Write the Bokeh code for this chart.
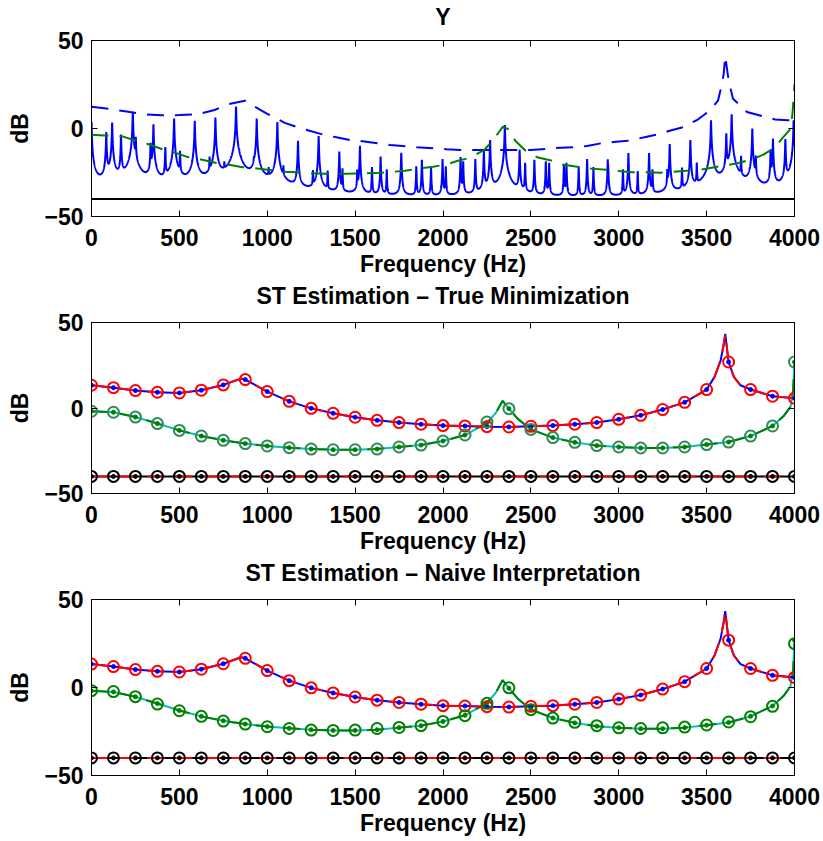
import numpy as np
from bokeh.plotting import figure
from bokeh.layouts import column
from bokeh.models import Range1d, LinearAxis, FixedTicker
from bokeh.embed import file_html
from bokeh.resources import INLINE

FONT = "Liberation Sans"
FONT_SIZE = "23px"
BLUE, RED, GREEN, CYAN, BLACK = "#0000ff", "#ff0000", "#008000", "#00bfbf", "#000000"
SEAGREEN = "#2e8b57"
DASH = "17 11"

X_TICKS = [0, 500, 1000, 1500, 2000, 2500, 3000, 3500, 4000]
Y_TICKS = [-50, 0, 50]

# analysis frequencies of the envelope estimates (Hz)
GRID_HZ = [0, 125, 250, 375, 500, 625, 750, 875, 1000, 1125, 1250, 1375, 1500,
           1625, 1750, 1875, 2000, 2125, 2250, 2375, 2500, 2625, 2750, 2875,
           3000, 3125, 3250, 3375, 3500, 3625, 3750, 3875, 4000]
NOISE_FLOOR_DB = -40.0

# --- mixture spectrum Y: two harmonic sources plus a flat noise floor -------
DC_DB = 3.7
PARTIALS_A_HZ = [117.5, 235, 352.5, 470, 587.5, 705, 822.5, 940, 1057.5, 1175,
                 1292.5, 1410, 1527.5, 1645, 1762.5, 1880, 1997.5, 2115, 2232.5,
                 2350, 2467.5, 2585, 2702.5, 2820, 2937.5, 3055, 3172.5, 3290,
                 3407.5, 3525, 3642.5, 3760, 3877.5, 3995]
PARTIALS_A_DB = [3.4, 9.5, 2.4, 5.6, 4.3, 6.2, 12.5, 5.6, 3.7, -7.0,
                 -4.3, -13.1, -9.9, -15.9, -14.0, -17.8, -17.4, -18.7, -12.2,
                 -14.0, -19.6, -18.7, -19.6, -17.4, -17.8, -14.0, -14.0, -8.8,
                 -6.6, 4.7, 8.0, 0.0, -5.7, 4.7]
PARTIALS_B_HZ = [84, 168, 252, 336, 420, 504, 588, 672, 756, 840,
                 924, 1008, 1092, 1176, 1260, 1344, 1428, 1512, 1596, 1680,
                 1764, 1848, 1932, 2016, 2100, 2184, 2268, 2352, 2436, 2520,
                 2604, 2688, 2772, 2856, 2940, 3024, 3108, 3192, 3276, 3360,
                 3444, 3528, 3612, 3696, 3780, 3864, 3948]
PARTIALS_B_DB = [-2.0, -3.5, -5.2, -8.4, -10.7, -13.1, -13.0, -16.9, -21.2, -20.0,
                 -19.7, -24.0, -22.5, -24.0, -24.4, -24.4, -23.0, -24.0, -22.0, -23.4,
                 -23.0, -21.6, -21.6, -21.6, -16.3, -17.4, -6.6, 1.9, -12.2, -17.8,
                 -19.6, -20.5, -21.6, -22.0, -22.0, -23.4, -24.4, -23.4, -24.0, -22.5,
                 -19.7, -20.0, -2.8, -15.9, -15.9, -12.0, -6.0]
PARTIAL_BW_HZ = 1.0

# spectral envelopes shown over Y
TOP_ENV_A_HZ = [0, 110, 200, 300, 400, 500, 600, 700, 780, 845, 875, 910, 1000, 1100,
                1200, 1330, 1400, 1470, 1530, 1630, 1700, 1770, 1850, 1950, 2020, 2100,
                2300, 2500, 2600, 2670, 2740, 2820, 2900, 2970, 3050, 3100, 3160, 3230,
                3300, 3360, 3450, 3520, 3565, 3585, 3597, 3606, 3620, 3630, 3650, 3730,
                3820, 3890, 3960, 4000]
TOP_ENV_A_DB = [12.3, 11.0, 9.6, 8.0, 7.5, 7.6, 8.0, 10.5, 13.8, 15.2, 15.8, 13.5, 8.3, 3.2,
                -0.2, -3.8, -5.1, -6.6, -7.1, -8.4, -9.4, -10.0, -10.7, -11.2, -11.8, -12.2,
                -12.2, -12.2, -11.5, -10.9, -10.7, -10.0, -8.4, -7.7, -7.0, -6.0, -4.7, -3.2,
                -1.0, 0.6, 5.1, 10.3, 15.9, 24.3, 30.9, 41.2, 30.9, 25.3, 16.9, 9.4,
                6.9, 5.1, 4.7, 4.7]
TOP_ENV_B_HZ = [0, 100, 180, 250, 320, 415, 475, 540, 610, 715, 790, 860, 930, 1000,
                1100, 1165, 1250, 1330, 1450, 1560, 1640, 1715, 1785, 1870, 1945, 2020,
                2080, 2150, 2235, 2290, 2340, 2375, 2410, 2465, 2535, 2615, 2670, 2745,
                2845, 2930, 3000, 3075, 3165, 3235, 3310, 3385, 3470, 3545, 3620, 3675,
                3760, 3820, 3885, 3930, 3980, 3990, 4000]
TOP_ENV_B_DB = [-3.5, -4.1, -4.6, -6.8, -8.8, -12.2, -13.7, -16.0, -17.3, -19.7, -20.7,
                -22.0, -22.6, -23.4, -24.6, -24.9, -25.4, -25.7, -25.7, -25.4, -25.1,
                -24.6, -24.0, -22.6, -21.7, -20.4, -18.5, -16.7, -12.2, -5.9, 1.0, -0.5,
                -6.8, -12.2, -16.3, -18.2, -20.4, -21.5, -22.8, -23.5, -24.2, -24.9,
                -24.9, -25.1, -24.6, -24.0, -23.3, -22.0, -20.7, -19.7, -17.5, -15.0,
                -11.2, -5.6, 0.0, 10.3, 25.1]

# --- true source-tract envelopes and their estimates -----------------------
ENV_A_HZ = [0, 125, 250, 375, 500, 625, 750, 850, 875, 1000, 1125, 1250, 1375, 1500,
            1625, 1750, 1875, 2000, 2125, 2250, 2375, 2500, 2625, 2750, 2875, 3000,
            3125, 3250, 3375, 3500, 3545, 3580, 3598, 3606, 3617, 3625, 3655, 3693,
            3750, 3875, 4000]
ENV_A_DB = [13.3, 11.9, 10.2, 9.2, 8.8, 10.4, 13.5, 17.2, 16.6, 9.6, 3.9, -0.2, -3.1, -5.4,
            -7.2, -8.5, -9.5, -10.3, -10.5, -10.9, -11.1, -10.7, -10.3, -9.5, -8.5, -6.6,
            -4.3, -0.9, 3.3, 10.8, 18.2, 27.9, 37.7, 43.4, 33.8, 26.9, 18.2, 13.3,
            10.8, 6.9, 5.7]
ENV_B_HZ = [0, 125, 250, 375, 500, 625, 750, 875, 1000, 1125, 1250, 1375, 1500, 1625,
            1750, 1875, 2000, 2125, 2250, 2300, 2339, 2375, 2424, 2500, 2625, 2750,
            2875, 3000, 3125, 3250, 3375, 3500, 3625, 3750, 3875, 3940, 3977, 3992, 4000]
ENV_B_DB = [-1.9, -2.5, -5.3, -9.1, -13.1, -16.4, -18.9, -20.8, -22.2, -23.2, -24.0,
            -24.4, -24.4, -24.0, -22.8, -21.7, -19.3, -15.8, -8.7, -3.0, 4.2, -0.4, -6.2,
            -12.5, -17.3, -20.1, -22.0, -22.8, -23.4, -23.4, -22.8, -21.4, -19.9, -16.4,
            -10.5, -4.5, 0.6, 10.0, 26.9]
ENV_B_NAIVE_DB = [-1.9, -2.5, -5.3, -9.1, -13.1, -16.4, -18.9, -20.8, -22.2, -23.2, -24.0,
                  -24.4, -24.4, -24.0, -22.8, -21.7, -19.3, -15.8, -8.7, -3.0, 4.2, -0.4,
                  -6.2, -12.5, -17.3, -20.1, -22.0, -22.8, -23.4, -23.4, -22.8, -21.4,
                  -19.9, -16.4, -10.5, -4.5, 0.6, 9.0, 24.9]

EST_A_DB = [13.3, 11.9, 10.2, 9.2, 8.8, 10.4, 13.5, 16.6, 9.6, 3.9, -0.2, -3.1, -5.4,
            -7.2, -8.5, -9.5, -10.3, -10.5, -10.9, -11.1, -10.7, -10.3, -9.5, -8.5,
            -6.6, -4.3, -0.9, 3.3, 10.8, 26.9, 10.8, 6.9, 5.7]
EST_B_MIN_DB = [-1.9, -2.5, -5.3, -9.1, -13.1, -16.4, -18.9, -20.8, -22.2, -23.2, -24.0,
                -24.4, -24.4, -24.0, -22.8, -21.7, -19.3, -15.8, -8.2, -0.4, -12.5, -17.3,
                -20.1, -22.0, -22.8, -23.4, -23.4, -22.8, -21.4, -19.9, -16.4, -10.5, 26.9]
EST_B_NAIVE_DB = [-1.8, -2.3, -5.2, -9.4, -13.2, -16.4, -19.1, -20.8, -22.3, -23.3, -24.2,
                  -24.4, -24.2, -23.3, -22.7, -21.7, -19.3, -16.0, -9.0, -0.2, -12.6, -17.4,
                  -19.8, -21.7, -22.9, -23.3, -22.9, -22.5, -21.3, -19.6, -16.6, -10.7, 24.9]
EST_NOISE_DB = [NOISE_FLOOR_DB] * len(GRID_HZ)


def mixture_spectrum():
    """Power sum of Lorentzian partials on top of the noise floor, in dB."""
    f = np.arange(0.0, 4000.25, 0.5)
    power = np.full_like(f, 10 ** (NOISE_FLOOR_DB / 10))
    centres = [0.0] + PARTIALS_A_HZ + PARTIALS_B_HZ
    levels = [DC_DB] + PARTIALS_A_DB + PARTIALS_B_DB
    for fc, lv in zip(centres, levels):
        power += 10 ** (lv / 10) / (1 + ((f - fc) / PARTIAL_BW_HZ) ** 2)
    return f, 10 * np.log10(power)


def at_grid(freqs, values):
    lookup = dict(zip(freqs, values))
    return [lookup[g] for g in GRID_HZ]


def style_label(ax):
    ax.axis_label_text_font = FONT
    ax.axis_label_text_font_size = FONT_SIZE
    ax.axis_label_text_font_style = "bold"
    ax.axis_label_text_color = BLACK


def panel(title, height, top, bottom, title_gap):
    p = figure(width=823, height=height, x_range=Range1d(0, 4000),
               y_range=Range1d(-50, 50), output_backend="svg",
               toolbar_location=None, min_border_left=91, min_border_right=29,
               min_border_top=top, min_border_bottom=bottom)
    p.xgrid.visible = False
    p.ygrid.visible = False
    p.outline_line_color = BLACK
    p.outline_line_alpha = 1.0
    p.background_fill_color = "white"
    p.border_fill_color = "white"

    # tick-only axes closing the box; the top one carries the panel heading
    top_axis = LinearAxis(axis_label=title, axis_label_standoff=title_gap)
    p.add_layout(top_axis, "above")
    p.add_layout(LinearAxis(), "right")
    for ax in p.xaxis:
        ax.ticker = FixedTicker(ticks=X_TICKS)
    for ax in p.yaxis:
        ax.ticker = FixedTicker(ticks=Y_TICKS)
        ax.major_label_overrides = {-50: "\u221250"}
    for ax in p.axis:
        ax.major_tick_in = 6
        ax.major_tick_out = 0
        ax.minor_tick_line_color = None
        ax.axis_line_color = BLACK
        ax.major_tick_line_color = BLACK
        ax.major_label_text_font = FONT
        ax.major_label_text_font_size = FONT_SIZE
        ax.major_label_text_font_style = "bold"
        ax.major_label_text_color = BLACK
    for ax in (top_axis, p.right[0]):
        ax.major_label_text_font_size = "1px"
        ax.major_label_text_color = None
        ax.major_label_text_alpha = 0
        ax.major_label_standoff = 0
    style_label(top_axis)

    xb = p.below[0]
    xb.axis_label = "Frequency (Hz)"
    xb.major_label_standoff = 12
    xb.axis_label_standoff = 2
    yl = p.left[0]
    yl.axis_label = "dB"
    yl.major_label_standoff = 8
    yl.axis_label_standoff = 8
    style_label(xb)
    style_label(yl)
    return p


# --- Y: observed mixture spectrum with both envelopes ----------------------
p1 = panel("Y", 279, 39, 63, 11)
yf, ydb = mixture_spectrum()
p1.line(yf, ydb, line_color=BLUE, line_width=2)
p1.line(TOP_ENV_A_HZ, TOP_ENV_A_DB, line_color=BLUE, line_width=2, line_dash=DASH)
p1.line(TOP_ENV_B_HZ, TOP_ENV_B_DB, line_color=GREEN, line_width=2, line_dash=DASH)
p1.line(GRID_HZ, EST_NOISE_DB, line_color=BLACK, line_width=2)


def estimation_panel(title, height, top, bottom, title_gap, env_b_est_db, est_b_db,
                     circle_green):
    p = panel(title, height, top, bottom, title_gap)
    # true envelopes (solid) with estimated curves dashed on top
    p.line(ENV_B_HZ, ENV_B_DB, line_color=CYAN, line_width=2)
    p.line(ENV_B_HZ, env_b_est_db, line_color=GREEN, line_width=2, line_dash=DASH)
    p.line(ENV_A_HZ, ENV_A_DB, line_color=BLUE, line_width=2)
    p.line(ENV_A_HZ, ENV_A_DB, line_color=RED, line_width=2, line_dash=DASH)
    p.line(GRID_HZ, EST_NOISE_DB, line_color=BLACK, line_width=2)
    p.line(GRID_HZ, EST_NOISE_DB, line_color=RED, line_width=2, line_dash=DASH)
    # sampled true values
    p.scatter(GRID_HZ, at_grid(ENV_A_HZ, ENV_A_DB), size=4, color=BLUE)
    p.scatter(GRID_HZ, at_grid(ENV_B_HZ, ENV_B_DB), size=4, color=GREEN)
    p.scatter(GRID_HZ, EST_NOISE_DB, size=4, color=BLACK)
    # estimates at the analysis frequencies
    ring = dict(size=11, fill_color=None, line_width=2)
    p.scatter(GRID_HZ, EST_A_DB, line_color=RED, **ring)
    p.scatter(GRID_HZ, est_b_db, line_color=circle_green, **ring)
    p.scatter(GRID_HZ, EST_NOISE_DB, line_color=BLACK, **ring)
    return p


p2 = estimation_panel("ST Estimation \u2013 True Minimization", 277, 43, 63, 14,
                      ENV_B_DB, EST_B_MIN_DB, SEAGREEN)
p3 = estimation_panel("ST Estimation \u2013 Naive Interpretation", 285, 43, 66, 14,
                      ENV_B_NAIVE_DB, EST_B_NAIVE_DB, GREEN)

layout = column(p1, p2, p3, spacing=0)
open("out.html", "w").write(file_html(layout, INLINE))
